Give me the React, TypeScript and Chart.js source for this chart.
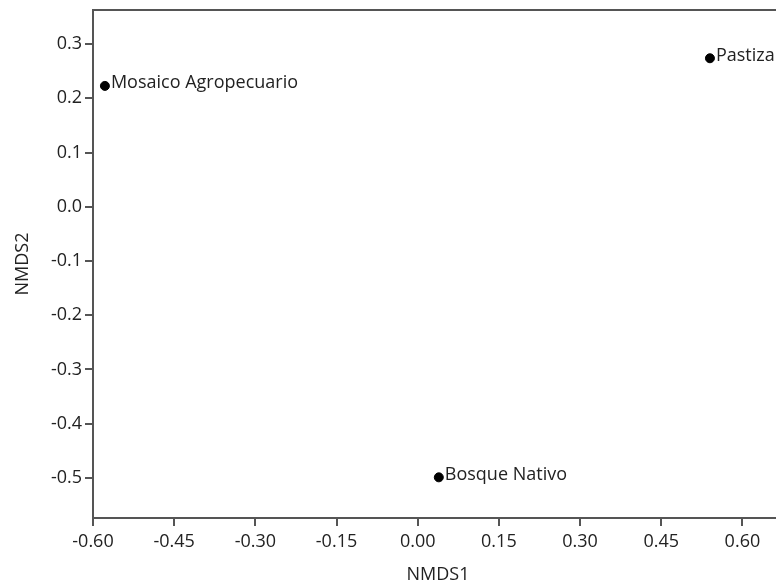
import React, { useEffect, useRef } from "react";
import { Chart, registerables } from "chart.js";

Chart.register(...registerables);

const siteNames = ["Mosaico Agropecuario", "Bosque Nativo", "Pastizal"];
const nmds1 = [-0.578, 0.039, 0.54];
const nmds2 = [0.223, -0.499, 0.274];

const xTicks = [-0.6, -0.45, -0.3, -0.15, 0.0, 0.15, 0.3, 0.45, 0.6];
const yTicks = [-0.5, -0.4, -0.3, -0.2, -0.1, 0.0, 0.1, 0.2, 0.3];

const FONT_FAMILY = "'Open Sans', 'Noto Sans', sans-serif";
const FONT_SIZE = 18;
const AXIS_COLOR = "#555555";
const TEXT_COLOR = "#222222";

const frameAndLabels = {
  id: "frameAndLabels",
  afterDatasetsDraw(chart: any) {
    const { ctx, chartArea } = chart;
    ctx.save();
    ctx.strokeStyle = AXIS_COLOR;
    ctx.lineWidth = 2;
    ctx.strokeRect(chartArea.left, chartArea.top, chartArea.right - chartArea.left, chartArea.bottom - chartArea.top);
    const meta = chart.getDatasetMeta(0);
    ctx.font = `${FONT_SIZE}px ${FONT_FAMILY}`;
    ctx.fillStyle = TEXT_COLOR;
    ctx.textAlign = "left";
    ctx.textBaseline = "alphabetic";
    meta.data.forEach((el: any, i: number) => {
      ctx.fillText(siteNames[i], el.x + 6, el.y + 2.5);
    });
    ctx.restore();
  },
};

export default function App() {
  const ref = useRef<HTMLCanvasElement | null>(null);
  useEffect(() => {
    if (!ref.current) return;
    const font = { family: FONT_FAMILY, size: FONT_SIZE };
    const chart = new Chart(ref.current, {
      type: "scatter",
      data: {
        datasets: [
          {
            data: nmds1.map((x, i) => ({ x, y: nmds2[i] })),
            backgroundColor: "#000000",
            borderColor: "#000000",
            pointRadius: 4.5,
            pointHoverRadius: 4.5,
          },
        ],
      },
      options: {
        animation: false,
        responsive: false,
        devicePixelRatio: 1,
        layout: { padding: { top: 10, right: 17, left: 0, bottom: 0 } },
        plugins: { legend: { display: false }, tooltip: { enabled: false } },
        scales: {
          x: {
            type: "linear",
            min: -0.6,
            max: 0.675,
            afterBuildTicks: (s: any) => {
              s.ticks = xTicks.map((v) => ({ value: v }));
            },
            afterFit: (s: any) => {
              s.height = 68;
              s.paddingLeft = 0;
              s.paddingRight = 0;
            },
            border: { display: true, color: AXIS_COLOR, width: 2 },
            grid: { display: true, drawOnChartArea: false, drawTicks: true, tickLength: 8, color: AXIS_COLOR, lineWidth: 2 },
            ticks: {
              font,
              color: TEXT_COLOR,
              padding: 5,
              maxRotation: 0,
              autoSkip: false,
              callback: (v: any) => Number(v).toFixed(2),
            },
            title: { display: true, text: "NMDS1", font, color: TEXT_COLOR, padding: { top: 0, bottom: 0 } },
          },
          y: {
            type: "linear",
            min: -0.574,
            max: 0.363,
            afterBuildTicks: (s: any) => {
              s.ticks = yTicks.map((v) => ({ value: v }));
            },
            afterFit: (s: any) => {
              s.width = 93;
              s.paddingTop = 0;
              s.paddingBottom = 0;
            },
            border: { display: true, color: AXIS_COLOR, width: 2 },
            grid: { display: true, drawOnChartArea: false, drawTicks: true, tickLength: 8, color: AXIS_COLOR, lineWidth: 2 },
            ticks: {
              font,
              color: TEXT_COLOR,
              padding: 3,
              autoSkip: false,
              callback: (v: any) => Number(v).toFixed(1),
            },
            title: { display: true, text: "NMDS2", font, color: TEXT_COLOR, padding: { top: 12, bottom: 0 } },
          },
        },
      },
      plugins: [frameAndLabels],
    });
    return () => chart.destroy();
  }, []);
  return (
    <div style={{ position: "fixed", left: 0, top: 0, width: 800, height: 586, background: "#fff" }}>
      <canvas ref={ref} width={800} height={586} style={{ display: "block" }} />
    </div>
  );
}
